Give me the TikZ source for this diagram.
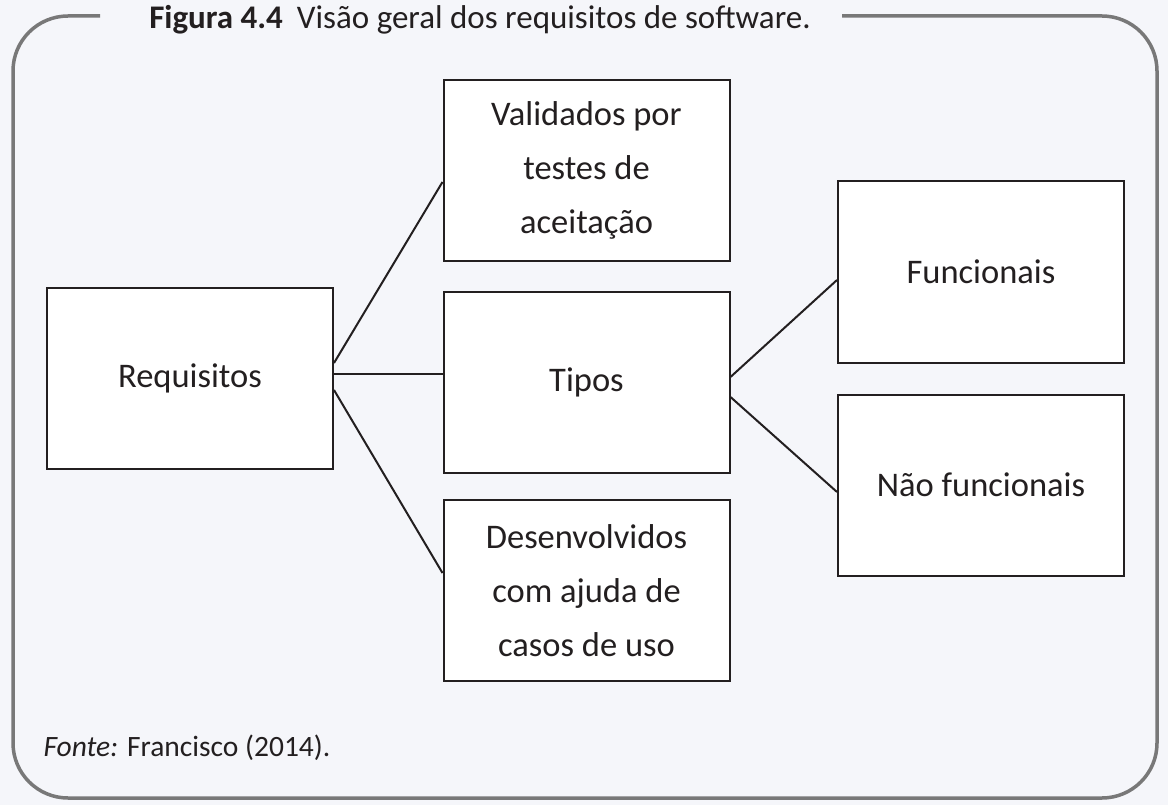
\documentclass[tikz,border=0pt]{standalone}
\usepackage{fontspec}
\setmainfont{Carlito}
\definecolor{pagebg}{RGB}{245, 246, 250}
\definecolor{framegray}{RGB}{120, 120, 120}
\definecolor{boxline}{RGB}{35, 31, 32}
\usepackage{tikz}
\usetikzlibrary{positioning}

\begin{document}
\begin{tikzpicture}[
  x=1pt, y=-1pt,
  reqbox/.style={draw=boxline, line width=2pt, fill=white, minimum width=286pt, minimum height=181pt, align=center, font=\fontsize{34.5}{54}\selectfont, inner sep=0pt, text=boxline},
  link/.style={draw=boxline, line width=2pt}
]
  % Background and frame
  \fill[pagebg] (0, 0) rectangle (1168, 805);
  \useasboundingbox (0, 0) rectangle (1168, 805);
  \draw[framegray, line width=3.5pt, rounded corners=55pt] (100, 16) -- (13, 16) -- (13, 798) -- (1157, 798) -- (1157, 16) -- (842, 16);

  % Title
  \node[anchor=base, font=\fontsize{33}{38}\selectfont, text=boxline] (title) at (480, 29) {\textbf{Figura 4.4}\hspace{14pt}Visão geral dos requisitos de software.};

  % Root
  \node[reqbox] (req) at (190, 378.5) {Requisitos};

  % Middle column
  \node[reqbox] (val) at (586.5, 170.5) {Validados por\\testes de\\aceitação};
  \node[reqbox] (tipos) at (586.5, 382.5) {Tipos};
  \node[reqbox] (desenv) at (586.5, 590.5) {Desenvolvidos\\com ajuda de\\casos de uso};

  % Right column
  \node[reqbox] (func) at (981, 272) {Funcionais};
  \node[reqbox] (naofunc) at (981, 485) {Não funcionais};

  \draw[link] ([yshift=15.5pt]req.east) -- ([yshift=-11.5pt]val.west);
  \draw[link] ([yshift=4.5pt]req.east) -- ([yshift=8.5pt]tipos.west);
  \draw[link] ([yshift=-11.5pt]req.east) -- ([yshift=17.5pt]desenv.west);
  \draw[link] ([yshift=5.5pt]tipos.east) -- ([yshift=-8pt]func.west);
  \draw[link] ([yshift=-14.5pt]tipos.east) -- ([yshift=-7pt]naofunc.west);

  % Source
  \node[anchor=base west, font=\fontsize{29.5}{34}\selectfont, text=boxline] (fonte) at (40, 756) {\textit{Fonte:} Francisco (2014).};
\end{tikzpicture}
\end{document}
